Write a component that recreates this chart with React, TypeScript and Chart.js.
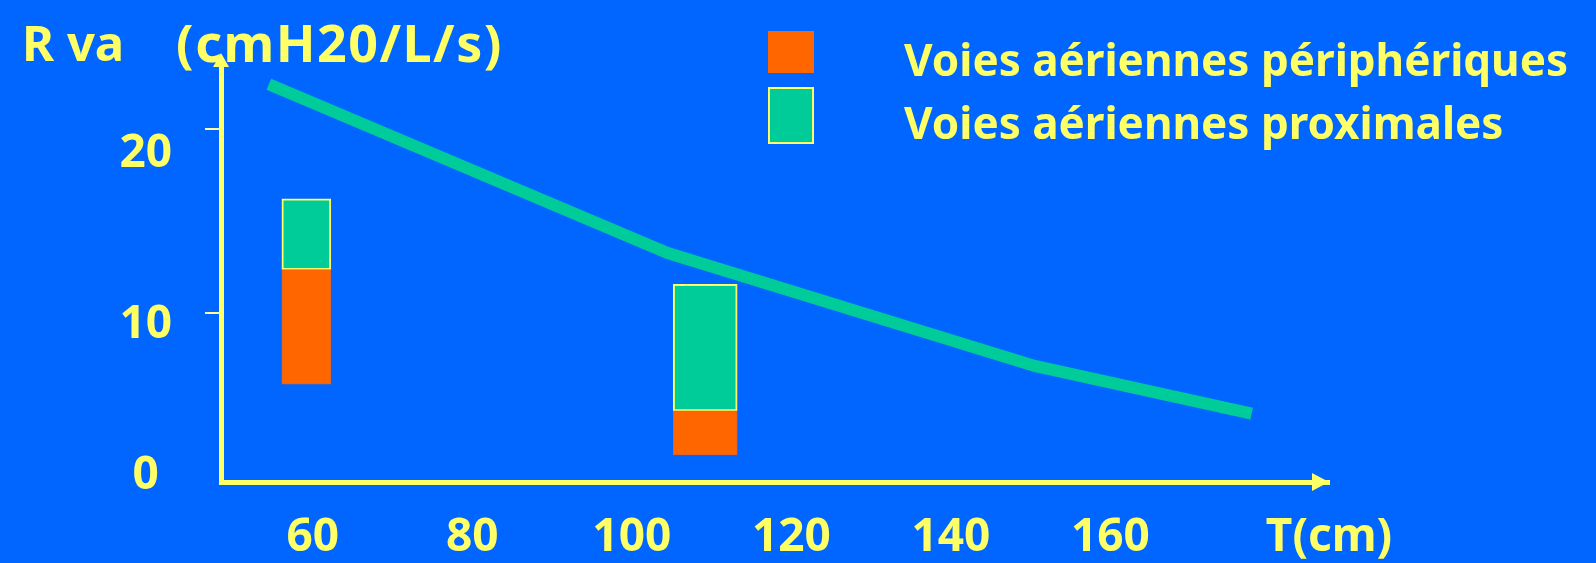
import { useEffect, useRef } from 'react';
import { Chart, registerables } from 'chart.js';

Chart.register(...registerables);

// ---- data ----
const seriesNames = ['Voies aériennes périphériques', 'Voies aériennes proximales'];
const barPositions = [59.2, 109.2]; // T (cm)
const peripheralRanges: [number, number][] = [
  [6.1, 12.35],
  [2.25, 4.65],
];
const proximalRanges: [number, number][] = [
  [12.35, 16.2],
  [4.65, 11.55],
];
const totalX = [54.5, 104.5, 150.5, 177.7];
const totalY = [22.45, 13.25, 7.1, 4.5];
const xTickValues = [60, 80, 100, 120, 140, 160];
const xAxisTitle = 'T(cm)';
const yTickValues = [10, 20];
const yTickLabels = ['0', '10', '20'];
const yLabelAnchors = [1.1, 9.35, 18.65];
const titleParts = ['R va', '(cmH20/L/s)'];

// ---- styles ----
const BLUE = '#0066ff';
const ORANGE = '#ff6600';
const GREEN = '#00cc99';
const YELLOW = '#ffff66';
const FONT = "'Noto Sans', 'DejaVu Sans', sans-serif";
const X_MIN = 48.5;
const X_MAX = 187.4;
const Y_MIN = 0.77;
const Y_MAX = 23.72;
const barThickness = [49, 64];

const decor = {
  id: 'decor',
  afterDraw(chart: any) {
    const { ctx, chartArea: a } = chart;
    ctx.save();
    ctx.fillStyle = YELLOW;
    ctx.textAlign = 'left';
    ctx.textBaseline = 'alphabetic';
    // title
    ctx.font = `bold 49px ${FONT}`;
    ctx.fillText(titleParts[0], 22, 61);
    ctx.font = `bold 52px ${FONT}`;
    (ctx as any).letterSpacing = '1.5px';
    ctx.fillText(titleParts[1], 176, 62);
    (ctx as any).letterSpacing = '0px';
    // arrows
    ctx.beginPath();
    ctx.moveTo(a.left, a.top - 8);
    ctx.lineTo(a.left - 8, a.top + 6);
    ctx.lineTo(a.left + 8, a.top + 6);
    ctx.closePath();
    ctx.fill();
    ctx.beginPath();
    ctx.moveTo(a.right, a.bottom);
    ctx.lineTo(a.right - 17, a.bottom - 9);
    ctx.lineTo(a.right - 17, a.bottom + 9);
    ctx.closePath();
    ctx.fill();
    // legend
    ctx.fillStyle = ORANGE;
    ctx.fillRect(768, 31, 46, 42);
    ctx.fillStyle = GREEN;
    ctx.fillRect(768, 87, 46, 57);
    ctx.strokeStyle = YELLOW;
    ctx.lineWidth = 2;
    ctx.strokeRect(769, 88, 44, 55);
    ctx.fillStyle = YELLOW;
    ctx.font = `bold 44px ${FONT}`;
    ctx.fillText(seriesNames[0], 904, 76);
    ctx.fillText(seriesNames[1], 904, 139);
    ctx.restore();
  },
};

export default function App() {
  const ref = useRef<HTMLCanvasElement | null>(null);
  useEffect(() => {
    if (!ref.current) return;
    const datasets: any[] = [];
    barPositions.forEach((x, i) => {
      datasets.push({
        type: 'bar',
        label: seriesNames[0],
        data: [{ x, y: peripheralRanges[i] }],
        backgroundColor: ORANGE,
        borderColor: '#d8642e',
        borderWidth: 1,
        borderSkipped: false,
        barThickness: barThickness[i],
        grouped: false,
      });
    });
    barPositions.forEach((x, i) => {
      datasets.push({
        type: 'bar',
        label: seriesNames[1],
        data: [{ x, y: proximalRanges[i] }],
        backgroundColor: GREEN,
        borderColor: YELLOW,
        borderWidth: 2,
        borderSkipped: false,
        barThickness: barThickness[i],
        grouped: false,
      });
    });
    datasets.push({
      type: 'line',
      label: 'R va',
      data: totalX.map((x, i) => ({ x, y: totalY[i] })),
      borderColor: GREEN,
      borderWidth: 12,
      pointRadius: 0,
      tension: 0,
      borderCapStyle: 'butt',
      borderJoinStyle: 'miter',
      fill: false,
    });

    const tickFont = { family: FONT, size: 46, weight: 'bold' as const };
    const chart = new Chart(ref.current, {
      type: 'bar',
      data: { datasets },
      options: {
        responsive: false,
        animation: false,
        devicePixelRatio: 1,
        layout: { padding: { left: 0, top: 61, right: 267, bottom: 0 } },
        plugins: {
          legend: { display: false },
          tooltip: { enabled: false },
          title: { display: false },
        },
        scales: {
          x: {
            type: 'linear',
            offset: false,
            min: X_MIN,
            max: X_MAX,
            bounds: 'data',
            grid: { display: false, drawTicks: false, offset: false },
            border: { display: true, color: YELLOW, width: 5 },
            ticks: {
              autoSkip: false,
              maxRotation: 0,
              padding: 28,
              color: YELLOW,
              font: tickFont,
              callback: (_v: any, i: number) =>
                i < xTickValues.length ? String(xTickValues[i]) : xAxisTitle,
            },
            afterBuildTicks: (s: any) => {
              s.ticks = [...xTickValues.map((value) => ({ value })), { value: X_MAX }];
            },
            afterFit: (s: any) => {
              s.height = 81;
            },
          },
          y: {
            type: 'linear',
            position: 'left',
            min: Y_MIN,
            max: Y_MAX,
            bounds: 'data',
            weight: 0,
            grid: {
              display: true,
              drawOnChartArea: false,
              drawTicks: true,
              tickLength: 16,
              color: '#ffff99',
              lineWidth: 2,
            },
            border: { display: true, color: YELLOW, width: 5 },
            ticks: { display: false },
            afterBuildTicks: (s: any) => {
              s.ticks = yTickValues.map((value) => ({ value }));
            },
            afterFit: (s: any) => {
              s.width = 16;
            },
          },
          yLabels: {
            type: 'linear',
            position: 'left',
            min: Y_MIN,
            max: Y_MAX,
            bounds: 'data',
            weight: 1,
            grid: { display: false, drawTicks: false },
            border: { display: false },
            ticks: {
              crossAlign: 'center',
              padding: 33,
              color: YELLOW,
              font: tickFont,
              callback: (_v: any, i: number) => yTickLabels[i],
            },
            afterBuildTicks: (s: any) => {
              s.ticks = yLabelAnchors.map((value) => ({ value }));
            },
            afterFit: (s: any) => {
              s.width = 205;
            },
          },
        } as any,
      },
      plugins: [decor],
    });
    return () => chart.destroy();
  }, []);

  return (
    <div
      style={{
        position: 'fixed',
        left: 0,
        top: 0,
        width: 1596,
        height: 563,
        background: BLUE,
        overflow: 'hidden',
      }}
    >
      <canvas ref={ref} width={1596} height={563} style={{ display: 'block' }} />
    </div>
  );
}
